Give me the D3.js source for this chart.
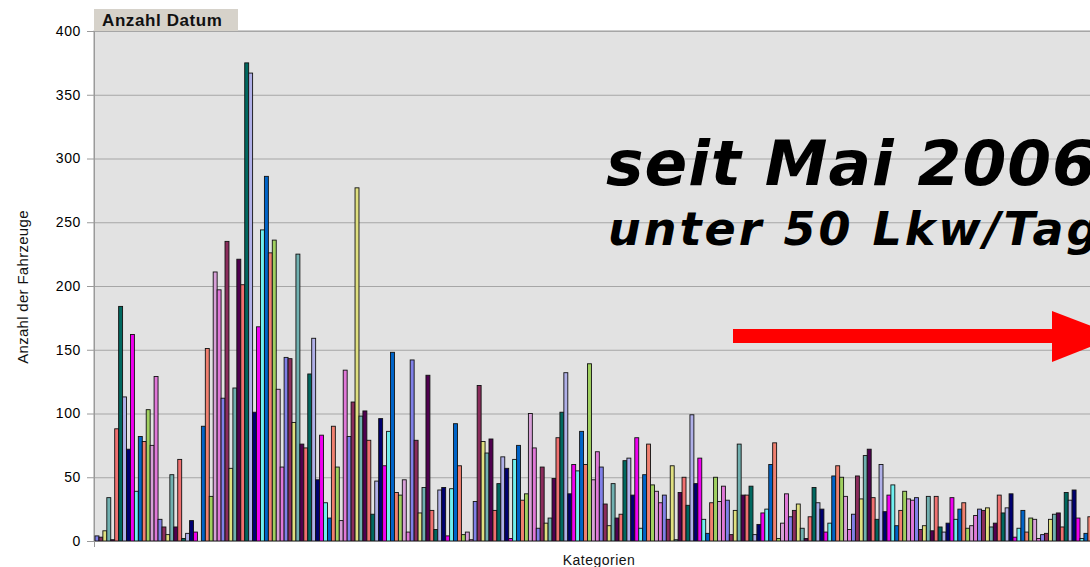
<!DOCTYPE html>
<html>
<head>
<meta charset="utf-8">
<script src="https://cdn.jsdelivr.net/npm/d3@7"></script>
<style>
  body { margin: 0; background: #fff; }
  svg { display: block; font-family: "Liberation Sans", Arial, sans-serif; }
</style>
</head>
<body>
<script>
var w = 1090;
var h = 567;

// counts per category (Anzahl Datum)
var counts = [
  4,3,8,34,1,88,184,113,72,162,39,82,78,103,75,129,
  17,11,5,52,11,64,2,6,16,7,0,90,151,35,211,197,
  112,235,57,120,221,201,375,367,101,168,244,286,226,236,119,58,
  144,143,93,225,76,73,131,159,48,83,30,18,90,58,16,134,
  82,109,277,98,102,79,21,47,96,59,86,148,38,36,48,7,
  142,79,22,42,130,24,9,40,42,4,41,92,59,5,7,1,
  31,122,78,69,80,24,45,66,57,2,64,75,32,37,100,73,
  10,58,14,18,49,81,101,132,37,60,55,86,60,139,48,70,
  58,29,12,45,18,21,63,65,36,81,10,52,76,44,39,30,
  36,17,59,1,38,50,28,99,45,65,17,6,30,50,31,43,
  32,5,24,76,36,36,43,5,13,22,25,60,77,2,14,37,
  19,24,29,10,2,19,42,30,25,7,14,51,59,50,35,9,
  21,51,33,67,72,34,17,60,23,36,44,12,24,39,33,32,
  34,9,12,35,8,35,11,7,14,34,17,25,30,10,12,20,
  25,24,26,11,14,36,22,26,37,3,10,24,7,18,17,2,
  5,6,17,21,22,11,38,32,40,18,2,6,19
];

// series colours, they repeat every 16 bars
var palette = [
  '#8080e8', '#8b2c5c', '#e0e080', '#70b0b0', '#500050', '#f07070', '#006860', '#b0b0e8',
  '#000070', '#f000f0', '#70f0f0', '#0064c8', '#f08070', '#a0d060', '#d8a0d8', '#e078d8'
];

var yTicks = [0, 50, 100, 150, 200, 250, 300, 350, 400];

var plot = { left: 94, top: 31, bottom: 541, right: 1100 };

var svg = d3.select('body').append('svg')
  .attr('width', w)
  .attr('height', h);

var x = d3.scaleBand()
  .domain(d3.range(counts.length))
  .range([95, 95 + counts.length * 3.94])
  .padding(0);

var y = d3.scaleLinear()
  .domain([0, 400])
  .range([plot.bottom, plot.top]);

// plot background
svg.append('rect')
  .attr('x', plot.left)
  .attr('y', plot.top)
  .attr('width', plot.right - plot.left)
  .attr('height', plot.bottom - plot.top)
  .attr('fill', '#e2e2e2')
  .attr('stroke', '#9a9a9a');

// grid
svg.selectAll('line.grid')
  .data(yTicks.slice(1))
  .enter().append('line')
  .attr('class', 'grid')
  .attr('x1', plot.left)
  .attr('x2', plot.right)
  .attr('y1', function(d) { return y(d) + 0.5; })
  .attr('y2', function(d) { return y(d) + 0.5; })
  .attr('stroke', '#a6a6a6')
  .attr('stroke-width', 1);

// y axis
var yAxis = svg.append('g')
  .attr('transform', 'translate(' + plot.left + ',0)')
  .call(d3.axisLeft(y).tickValues(yTicks).tickSize(7).tickPadding(6));
yAxis.select('.domain').attr('stroke', '#9a9a9a');
yAxis.selectAll('.tick line').attr('stroke', '#9a9a9a');
yAxis.selectAll('.tick text')
  .attr('font-size', '14px')
  .attr('font-family', '"Liberation Sans", Arial, sans-serif')
  .attr('letter-spacing', '0.6px')
  .attr('fill', '#000');

// bars
svg.append('g').selectAll('rect')
  .data(counts).enter()
  .append('rect')
  .attr('x', function(d, i) { return x(i); })
  .attr('y', function(d) { return y(d); })
  .attr('width', x.bandwidth())
  .attr('height', function(d) { return y(0) - y(d); })
  .attr('fill', function(d, i) { return palette[i % palette.length]; })
  .attr('stroke', '#111')
  .attr('stroke-width', 0.9);

// x axis line
svg.append('line')
  .attr('x1', plot.left).attr('x2', plot.right)
  .attr('y1', plot.bottom + 0.5).attr('y2', plot.bottom + 0.5)
  .attr('stroke', '#808080');
svg.append('line')
  .attr('x1', plot.left + 0.5).attr('x2', plot.left + 0.5)
  .attr('y1', plot.bottom).attr('y2', plot.bottom + 6)
  .attr('stroke', '#9a9a9a');

// pivot field button
svg.append('rect')
  .attr('x', 94).attr('y', 9)
  .attr('width', 144).attr('height', 22)
  .attr('fill', '#d6d2ca');
svg.append('text')
  .attr('x', 102).attr('y', 26)
  .attr('font-size', '17px')
  .attr('font-weight', 'bold')
  .attr('letter-spacing', '0.6px')
  .attr('fill', '#111')
  .text('Anzahl Datum');

// axis titles
svg.append('text')
  .attr('transform', 'translate(28,287) rotate(-90)')
  .attr('text-anchor', 'middle')
  .attr('font-size', '15px')
  .attr('letter-spacing', '0.3px')
  .attr('fill', '#111')
  .text('Anzahl der Fahrzeuge');

svg.append('text')
  .attr('x', 599).attr('y', 565)
  .attr('text-anchor', 'middle')
  .attr('font-size', '14px')
  .attr('letter-spacing', '0.5px')
  .attr('fill', '#111')
  .text('Kategorien');

// annotation
svg.append('text')
  .attr('x', 606).attr('y', 185)
  .attr('font-family', '"DejaVu Sans", Verdana, sans-serif')
  .attr('font-weight', 'bold')
  .attr('font-style', 'italic')
  .attr('font-size', '63px')
  .attr('letter-spacing', '1px')
  .attr('fill', '#000')
  .text('seit Mai 2006');

svg.append('text')
  .attr('x', 608).attr('y', 245)
  .attr('font-family', '"DejaVu Sans", Verdana, sans-serif')
  .attr('font-weight', 'bold')
  .attr('font-style', 'italic')
  .attr('font-size', '46px')
  .attr('letter-spacing', '3px')
  .attr('fill', '#000')
  .text('unter 50 Lkw/Tag');

// red arrow
svg.append('rect')
  .attr('x', 733).attr('y', 329)
  .attr('width', 325).attr('height', 14)
  .attr('fill', '#f00');
svg.append('path')
  .attr('d', 'M1052,311 L1118,336 L1052,362 Z')
  .attr('fill', '#f00');
</script>
</body>
</html>
